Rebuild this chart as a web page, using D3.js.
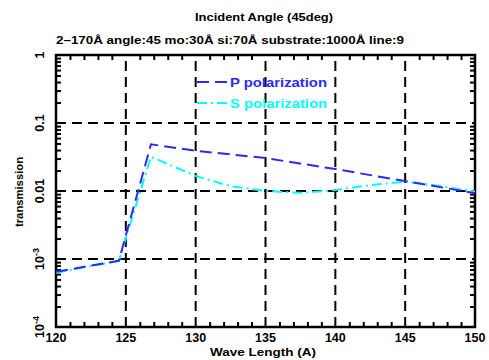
<!DOCTYPE html>
<html>
<head>
<meta charset="utf-8">
<script src="https://cdn.jsdelivr.net/npm/d3@7"></script>
<style>
  body { margin: 0; background: #fff; }
  text { font-family: "Liberation Sans", Arial, sans-serif; font-weight: bold; }
</style>
</head>
<body>
<div id="chart"></div>
<script>
// Data
var waveP = [120, 124.5, 126.8, 130, 135, 140, 145, 150];
var transP = [0.00065, 0.00094, 0.0486, 0.039, 0.0305, 0.021, 0.014, 0.0093];
var waveS = [120, 124.5, 126.8, 130, 132.5, 135, 137.5, 140, 142.5, 145, 147.5, 150];
var transS = [0.00063, 0.00094, 0.0319, 0.0166, 0.0118, 0.0100, 0.0094, 0.0103, 0.0122, 0.0137, 0.0118, 0.0098];
var xTicks = [120, 125, 130, 135, 140, 145, 150];
var yTicks = [1e-4, 1e-3, 0.01, 0.1, 1];
var yTickLabels = ['10', '10', '0.01', '0.1', '1'];
var yTickExp = ['-4', '-3', '', '', ''];
var seriesNames = ['P polarization', 'S polarization'];

var width = 489,
  height = 360,
  margin = {top: 55, right: 14, bottom: 33, left: 56};

var svg = d3.select('#chart').append('svg')
  .attr('width', width)
  .attr('height', height);

svg.append('rect').attr('width', width).attr('height', height).attr('fill', 'white');

var x = d3.scaleLinear().domain([120, 150]).range([margin.left, width - margin.right]);
var y = d3.scaleLog().domain([1e-4, 1]).range([height - margin.bottom, margin.top]);

var x0 = margin.left, x1 = width - margin.right, y0 = height - margin.bottom, y1 = margin.top;

// Titles
svg.append('text').attr('x', 195).attr('y', 21)
  .attr('font-size', 11.5).attr('textLength', 138).attr('lengthAdjust', 'spacingAndGlyphs')
  .text('Incident Angle (45deg)');
svg.append('text').attr('x', 56).attr('y', 44)
  .attr('font-size', 11.5).attr('textLength', 348).attr('lengthAdjust', 'spacingAndGlyphs')
  .text('2\u2013170\u00c5 angle:45 mo:30\u00c5 si:70\u00c5 substrate:1000\u00c5 line:9');

// Dashed gridlines at major ticks
var grid = svg.append('g').attr('stroke', 'black').attr('stroke-width', 2)
  .attr('stroke-dasharray', '10,6');
grid.selectAll('line.gx').data(xTicks.slice(1, -1)).enter().append('line')
  .attr('x1', d => x(d)).attr('x2', d => x(d)).attr('y1', y0).attr('y2', y1);
grid.selectAll('line.gy').data(yTicks.slice(1, -1)).enter().append('line')
  .attr('y1', d => y(d)).attr('y2', d => y(d)).attr('x1', x0).attr('x2', x1);

// Minor ticks
var xMinor = d3.range(121, 150, 1).filter(d => d % 5 !== 0);
var yMinor = [];
[1e-4, 1e-3, 0.01, 0.1].forEach(function (b) {
  for (var k = 2; k <= 9; k++) yMinor.push(b * k);
});

var axisBottom = d3.axisBottom(x).tickValues(xMinor).tickSize(-5).tickFormat('');
var axisTop = d3.axisTop(x).tickValues(xMinor).tickSize(-5).tickFormat('');
var axisLeft = d3.axisLeft(y).tickValues(yMinor).tickSize(-5).tickFormat('');
var axisRight = d3.axisRight(y).tickValues(yMinor).tickSize(-5).tickFormat('');

[[axisBottom, 'translate(0,' + y0 + ')'], [axisTop, 'translate(0,' + y1 + ')'],
 [axisLeft, 'translate(' + x0 + ',0)'], [axisRight, 'translate(' + x1 + ',0)']].forEach(function (a) {
  var g = svg.append('g').attr('transform', a[1]).call(a[0]);
  g.select('.domain').remove();
  g.selectAll('line').attr('stroke', 'black').attr('stroke-width', 2);
});

// Plot frame
svg.append('rect').attr('x', x0).attr('y', y1).attr('width', x1 - x0).attr('height', y0 - y1)
  .attr('fill', 'none').attr('stroke', 'black').attr('stroke-width', 2.5);

// X tick labels
svg.selectAll('text.xl').data(xTicks).enter().append('text')
  .attr('x', d => x(d)).attr('y', 342).attr('text-anchor', 'middle')
  .attr('font-size', 12.5).text(d => d);
svg.append('text').attr('x', 210).attr('y', 356)
  .attr('font-size', 11.5).attr('textLength', 106).attr('lengthAdjust', 'spacingAndGlyphs')
  .text('Wave Length (A)');

// Y tick labels (rotated)
var yl = svg.selectAll('text.yl').data(yTicks).enter().append('text')
  .attr('transform', d => 'translate(44,' + y(d) + ') rotate(-90)')
  .attr('text-anchor', 'middle').attr('font-size', 12.5);
yl.append('tspan').text((d, i) => yTickLabels[i]);
yl.append('tspan').attr('dy', -5).attr('font-size', 9).text((d, i) => yTickExp[i]);
svg.append('text').attr('transform', 'translate(23,227) rotate(-90)')
  .attr('font-size', 11).attr('textLength', 70).attr('lengthAdjust', 'spacingAndGlyphs')
  .text('transmission');

// Series lines
var line = d3.line().x(d => x(d[0])).y(d => y(d[1]));
var colors = ['#2a2aff', '#00ffff'];
var dashes = ['12,6', '10,4,2,4'];

var plot = svg.append('g');
plot.append('path').datum(d3.zip(waveS, transS))
  .attr('d', line).attr('fill', 'none').attr('stroke', colors[1])
  .attr('stroke-width', 2).attr('stroke-dasharray', dashes[1]);
plot.append('path').datum(d3.zip(waveP, transP))
  .attr('d', line).attr('fill', 'none').attr('stroke', colors[0])
  .attr('stroke-width', 2).attr('stroke-dasharray', dashes[0]);

// Legend
var leg = svg.selectAll('g.leg').data(seriesNames).enter().append('g')
  .attr('transform', (d, i) => 'translate(197,' + (82 + i * 21) + ')');
leg.append('line').attr('x1', 0).attr('x2', 30).attr('y1', 0).attr('y2', 0)
  .attr('stroke', (d, i) => colors[i]).attr('stroke-width', 2)
  .attr('stroke-dasharray', (d, i) => dashes[i]);
leg.append('text').attr('x', 33).attr('y', 5).attr('font-size', 13)
  .attr('textLength', 97).attr('lengthAdjust', 'spacingAndGlyphs')
  .attr('fill', (d, i) => colors[i]).text(d => d);
</script>
</body>
</html>
